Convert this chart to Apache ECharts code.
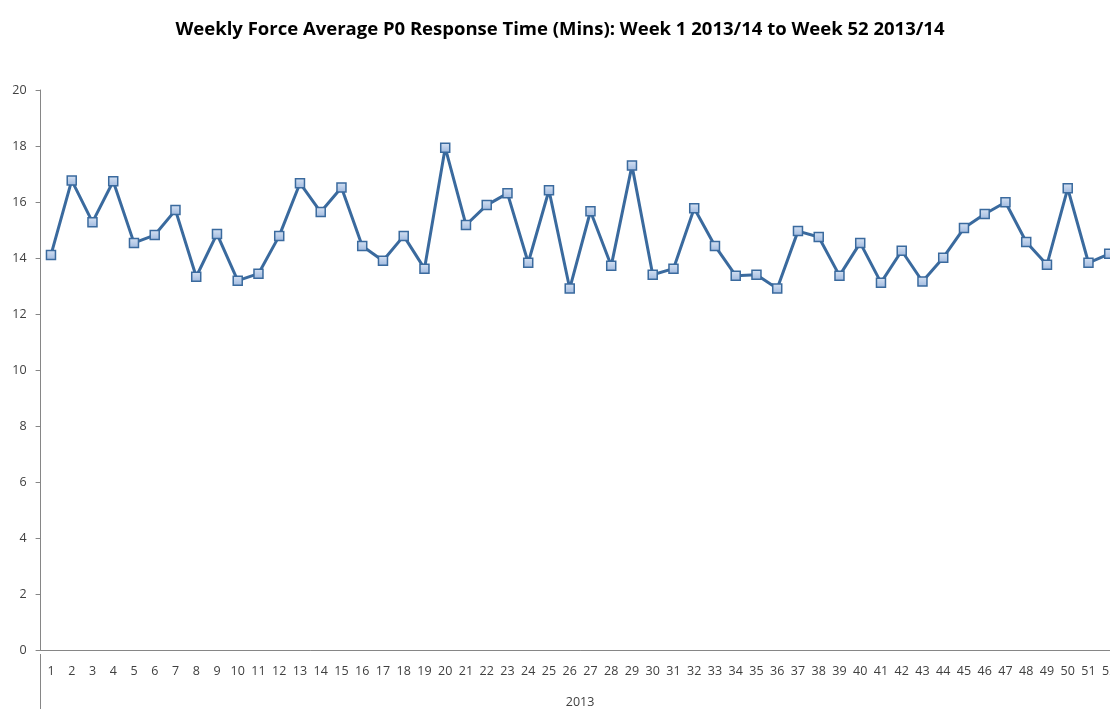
<!DOCTYPE html>
<html>
<head>
<meta charset="utf-8">
<script src="https://cdn.jsdelivr.net/npm/echarts@6/dist/echarts.min.js"></script>
<style>html,body{margin:0;padding:0;background:#fff;overflow:hidden}#wrap{position:absolute;left:0;top:0;width:1110px;height:709px;overflow:hidden}#c{position:absolute;left:0;top:0;width:1120px;height:709px}</style>
</head>
<body>
<div id="wrap"><div id="c"></div></div>
<script>
const weeks = Array.from({length: 52}, (_, i) => String(i + 1));
const responseTimes = [14.11, 16.77, 15.28, 16.74, 14.54, 14.82, 15.71, 13.33, 14.86, 13.19,
  13.44, 14.79, 16.67, 15.64, 16.52, 14.43, 13.90, 14.79, 13.62, 17.94,
  15.18, 15.89, 16.31, 13.83, 16.42, 12.91, 15.67, 13.72, 17.30, 13.40,
  13.62, 15.78, 14.43, 13.37, 13.40, 12.91, 14.96, 14.75, 13.37, 14.54,
  13.12, 14.26, 13.16, 14.01, 15.07, 15.57, 15.99, 14.57, 13.76, 16.49,
  13.83, 14.15];
const yearLabels = ['2013'];
const titleText = 'Weekly Force Average P0 Response Time (Mins): Week 1 2013/14 to Week 52 2013/14';

const chart = echarts.init(document.getElementById('c'), null, {width: 1120, height: 709});
const gridLeft = 40.6, gridTop = 90, gridW = 1079, gridH = 564;
chart.setOption({
  animation: false,
  title: {
    text: titleText, left: 'center', top: 15,
    textStyle: {fontFamily: 'Open Sans', fontSize: 18.5, fontWeight: 'bold', color: '#000'}
  },
  grid: {left: gridLeft, top: gridTop, width: gridW, height: gridH},
  xAxis: [{
    type: 'category', data: weeks, boundaryGap: true,
    axisLine: {lineStyle: {color: '#868686', width: 1}},
    axisTick: {show: false},
    axisLabel: {interval: 0, margin: 15, color: '#404040', fontFamily: 'Open Sans', fontSize: 12.5}
  }, {
    type: 'category', data: yearLabels, position: 'bottom', gridIndex: 0,
    axisLine: {show: false}, axisTick: {show: false},
    axisLabel: {margin: 46, color: '#404040', fontFamily: 'Open Sans', fontSize: 12.5}
  }],
  yAxis: {
    type: 'value', min: 0, max: 20, interval: 2,
    splitLine: {show: false},
    axisLine: {show: true, lineStyle: {color: '#868686', width: 1}},
    axisTick: {show: true, length: 5, lineStyle: {color: '#868686'}},
    axisLabel: {margin: 14, color: '#404040', fontFamily: 'Open Sans', fontSize: 12.5}
  },
  graphic: [{
    type: 'line', shape: {x1: 40.5, y1: gridTop + gridH, x2: 40.5, y2: 709},
    style: {stroke: '#868686', lineWidth: 1}
  }],
  series: [{
    type: 'line', data: responseTimes, xAxisIndex: 0,
    symbol: 'rect', symbolSize: 9,
    lineStyle: {color: '#3A6A9E', width: 3},
    itemStyle: {
      color: new echarts.graphic.LinearGradient(0, 0, 0, 1, [
        {offset: 0, color: '#D6E2F3'}, {offset: 1, color: '#9FB9DF'}]),
      borderColor: '#3A6A9E', borderWidth: 1.5
    }
  }]
});
</script>
</body>
</html>
